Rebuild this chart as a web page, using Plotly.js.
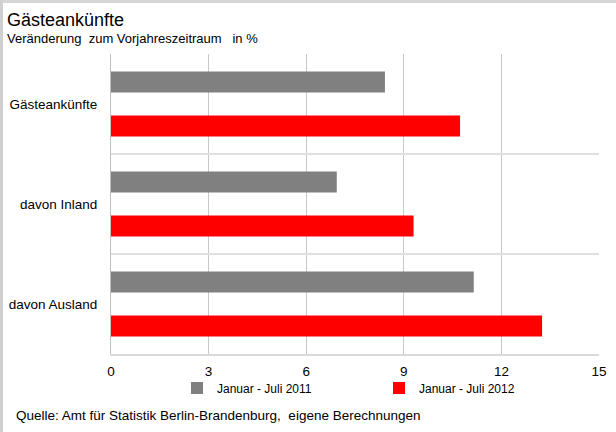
<!DOCTYPE html>
<html>
<head>
<meta charset="utf-8">
<script src="https://cdn.plot.ly/plotly-3.0.1.min.js"></script>
<style>
  html, body { margin: 0; padding: 0; background: #fff; }
  #wrap { position: relative; width: 616px; height: 432px; }
  #chart { position: absolute; left: 0; top: 0; width: 616px; height: 432px; }
  #frame { position: absolute; left: 0; top: 0; width: 613px; height: 429px;
           border-left: 3px solid #d0d0d0; border-top: 3px solid #d6d6d6; pointer-events: none; }
</style>
</head>
<body>
<div id="wrap"><div id="chart"></div><div id="frame"></div></div>
<script>
const categories = ["Gästeankünfte", "davon Inland", "davon Ausland"];
const series2011 = [8.42, 6.94, 11.15];
const series2012 = [10.73, 9.30, 13.25];
const seriesNames = ["Januar - Juli 2011", "Januar - Juli 2012"];
const xTicks = [0, 3, 6, 9, 12, 15];

const FONT = "Liberation Sans, Arial, sans-serif";

const traces = [
  { type: "bar", orientation: "h", name: seriesNames[0], y: categories, x: series2011,
    marker: { color: "#808080", line: { width: 0 } }, hoverinfo: "x+y" },
  { type: "bar", orientation: "h", name: seriesNames[1], y: categories, x: series2012,
    marker: { color: "#ff0000", line: { width: 0 } }, hoverinfo: "x+y" }
];

const layout = {
  width: 616, height: 432,
  margin: { l: 111, r: 17, t: 54, b: 78, pad: 0 },
  paper_bgcolor: "#ffffff", plot_bgcolor: "#ffffff",
  font: { family: FONT, size: 13.5, color: "#000" },
  barmode: "group", bargap: 0.12, bargroupgap: 0.52,
  title: { text: "Gästeankünfte", font: { family: FONT, size: 18, color: "#000" },
           x: 7 / 616, xref: "container", xanchor: "left",
           y: 1 - 19.5 / 432, yref: "container", yanchor: "middle" },
  xaxis: { range: [0, 15], tickvals: xTicks, ticktext: xTicks.map(String),
           showgrid: true, gridcolor: "#c8c8c8", gridwidth: 1,
           zeroline: false, showline: true, linecolor: "#d9d9d9", linewidth: 2,
           ticks: "", ticklabelstandoff: 4, tickfont: { size: 13.5, color: "#000" }, fixedrange: true },
  yaxis: { type: "category", autorange: "reversed", tickson: "boundaries",
           showgrid: true, gridcolor: "#e0e0e0", gridwidth: 2,
           showline: true, linecolor: "#c0c0c0", linewidth: 1,
           ticks: "", ticklabelstandoff: 10, tickfont: { size: 13.5, color: "#000" }, fixedrange: true },
  showlegend: true,
  legend: { orientation: "h", xref: "container", yref: "container",
            x: 177 / 616, xanchor: "left", y: 1 - 388 / 432, yanchor: "middle",
            entrywidth: 157, font: { size: 12, color: "#000" }, bgcolor: "rgba(0,0,0,0)",
            traceorder: "normal" },
  annotations: [
    { text: "Veränderung  zum Vorjahreszeitraum   in %", xref: "paper", yref: "paper",
      x: (5 - 111) / 488, y: 1 + (54 - 38.5) / 300, xanchor: "left", yanchor: "middle",
      showarrow: false, font: { size: 13, color: "#000" } },
    { text: "Quelle: Amt für Statistik Berlin-Brandenburg,  eigene Berechnungen", xref: "paper", yref: "paper",
      x: (13.5 - 111) / 488, y: -(415 - 354) / 300, xanchor: "left", yanchor: "middle",
      showarrow: false, font: { size: 13.5, color: "#000" } }
  ]
};

Plotly.newPlot("chart", traces, layout, { displayModeBar: false, staticPlot: true });
</script>
</body>
</html>
